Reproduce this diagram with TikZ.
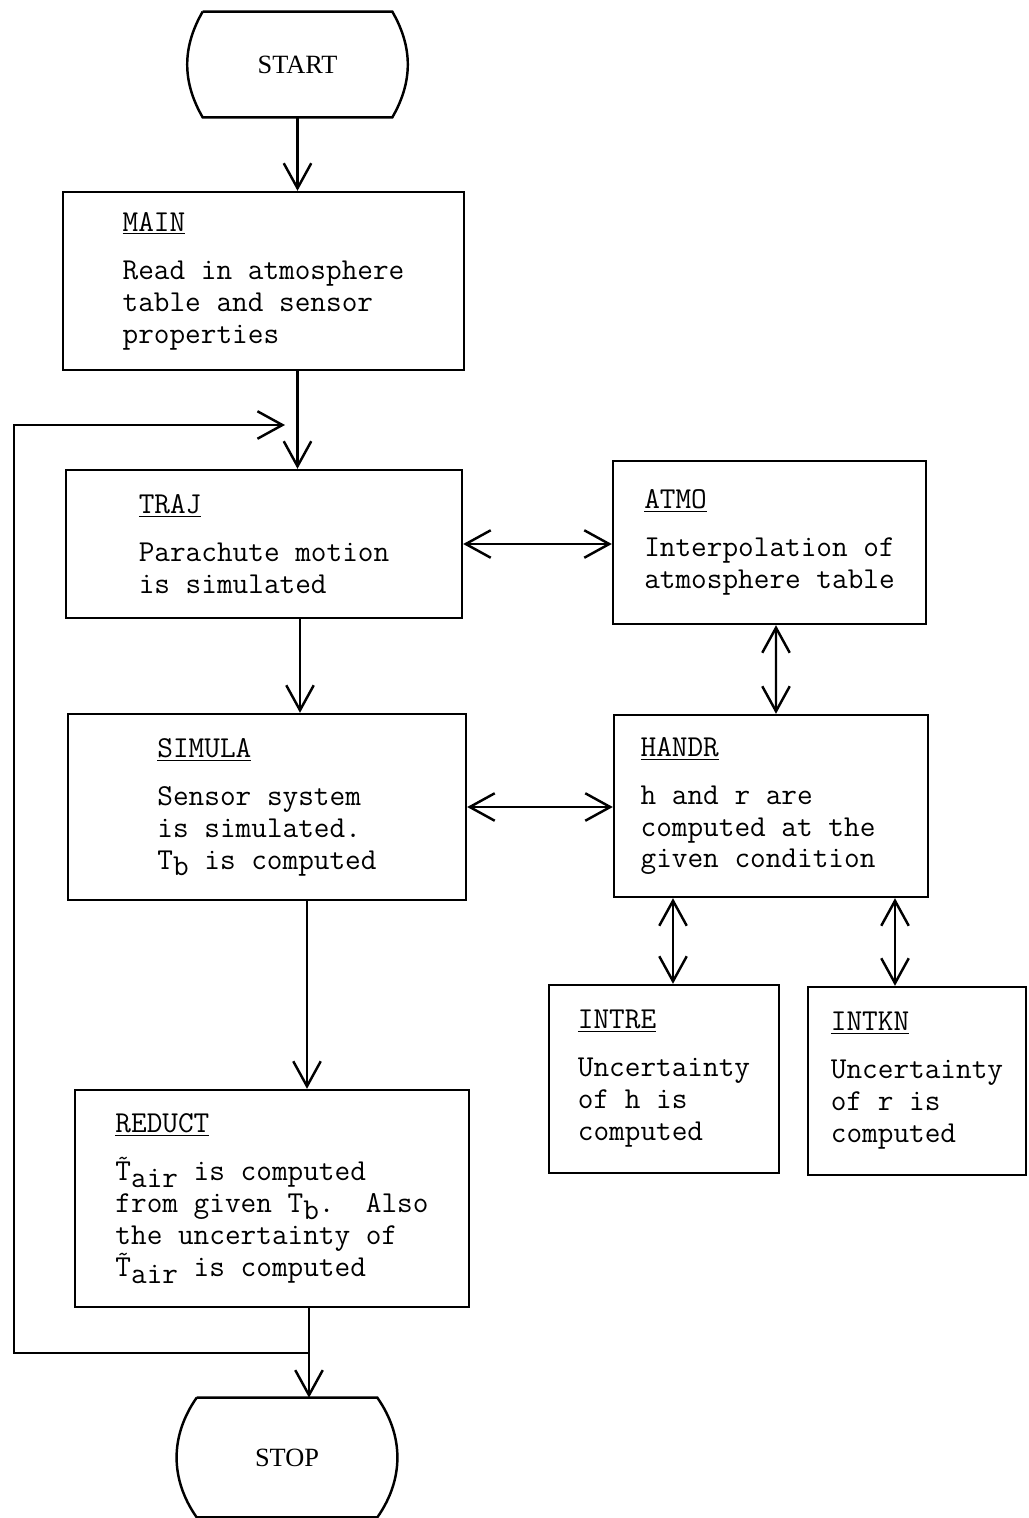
\documentclass[tikz,border=0pt]{standalone}
\usepackage{fontspec}
\usepackage{graphicx}
\setmainfont{Liberation Serif}
\usetikzlibrary{arrows.meta,calc}
\tikzset{
        % Process boxes
        proc_box/.style={rectangle, draw, line width=1.4pt, align=left, inner sep=0pt, font=\ttfamily\fontsize{17.3}{18.2}\selectfont},
        % Start and stop terminals (outline drawn afterwards)
        term_box/.style={rectangle, inner sep=0pt, font=\fontsize{15}{17}\selectfont},
        % Terminal outline
        term_line/.style={line width=1.4pt},
        % One-way connectors
        flow/.style={line width=1.4pt, -{Straight Barb[length=0.5cm,width=0.55cm]}},
        % Two-way connectors
        flow_both/.style={line width=1.4pt, {Straight Barb[length=0.5cm,width=0.55cm]}-{Straight Barb[length=0.5cm,width=0.55cm]}}
}
\newcommand{\lowered}[1]{\raisebox{-0.5ex}{#1}}
\newcommand{\tildeT}{\rlap{\raisebox{0.5em}{\kern0.06em\scalebox{0.75}{\textasciitilde}}}T}

\begin{document}
\begin{tikzpicture}[x=0.02cm, y=-0.02cm]
            \useasboundingbox (0,0) rectangle (1028,1518);

            % Terminals
            \node[term_box, minimum width=3.78cm, minimum height=2.1cm] (start) at (297.5,64.5) {START};
            \draw[term_line] (start.north west) -- (start.north east) to[bend left=30] (start.south east)
                -- (start.south west) to[bend left=30] (start.north west);
            \node[term_box, minimum width=3.6cm, minimum height=2.38cm] (stop) at (287,1457.5) {STOP};
            \draw[term_line] (stop.north west) -- (stop.north east) to[bend left=35] (stop.south east)
                -- (stop.south west) to[bend left=35] (stop.north west);

            % Routines
            \node[proc_box, minimum width=8.02cm, minimum height=3.56cm] (main) at (263.5,281)
                {\underline{MAIN}\\[0.32cm]Read in atmosphere\\table and sensor\\properties};
            \node[proc_box, minimum width=7.92cm, minimum height=2.96cm] (traj) at (264,544)
                {\underline{TRAJ}\\[0.32cm]Parachute motion\\is simulated};
            \node[proc_box, minimum width=6.26cm, minimum height=3.26cm] (atmo) at (769.5,542.5)
                {\underline{ATMO}\\[0.32cm]Interpolation of\\atmosphere table};
            \node[proc_box, minimum width=7.96cm, minimum height=3.72cm] (simula) at (267,807)
                {\underline{SIMULA}\\[0.32cm]Sensor system\\is simulated.\\T\lowered{b} is computed};
            \node[proc_box, minimum width=6.28cm, minimum height=3.64cm] (handr) at (771,806)
                {\underline{HANDR}\\[0.32cm]h and r are\\computed at the\\given condition\hspace*{0.52cm}};
            \node[proc_box, minimum width=4.6cm, minimum height=3.76cm] (intre) at (664,1079)
                {\underline{INTRE}\\[0.32cm]Uncertainty\\of h is\\computed};
            \node[proc_box, minimum width=4.36cm, minimum height=3.76cm] (intkn) at (917,1081)
                {\underline{INTKN}\\[0.32cm]Uncertainty\\of r is\\computed};
            \node[proc_box, minimum width=7.88cm, minimum height=4.34cm] (reduct) at (272,1198.5)
                {\underline{REDUCT}\\[0.32cm]\tildeT\lowered{air} is computed\\from given T\lowered{b}.\ \ Also\\the uncertainty of\\\tildeT\lowered{air} is computed};

            % Connectors
            \draw[flow] (start.south) -- (start.south |- main.north);
            \draw[flow] (start.south |- main.south) -- (start.south |- traj.north);
            \draw[flow_both] (traj.east) -- (traj.east -| atmo.west);
            \draw[flow] ($(traj.south)+(36,0)$) -- ($(simula.north)+(33,0)$);
            \draw[flow_both] ($(atmo.south)+(6.5,0)$) -- ($(handr.north)+(5,0)$);
            \draw[flow_both] (simula.east) -- (simula.east -| handr.west);
            \draw[flow] ($(simula.south)+(40,0)$) -- ($(reduct.north)+(35,0)$);
            \draw[flow_both] ($(handr.south)+(-98,0)$) -- ($(intre.north)+(9,0)$);
            \draw[flow_both] ($(handr.south)+(124,0)$) -- ($(intkn.north)+(-22,0)$);
            \draw[flow] ($(reduct.south)+(37,0)$) -- ($(stop.north)+(22,0)$);

            % Loop back to TRAJ
            \coordinate (junc) at ($(reduct.south)+(37,45)$);
            \coordinate (loopin) at (285,425);
            \draw[flow] (junc) -- ++(-295,0) |- (loopin);
\end{tikzpicture}
\end{document}
